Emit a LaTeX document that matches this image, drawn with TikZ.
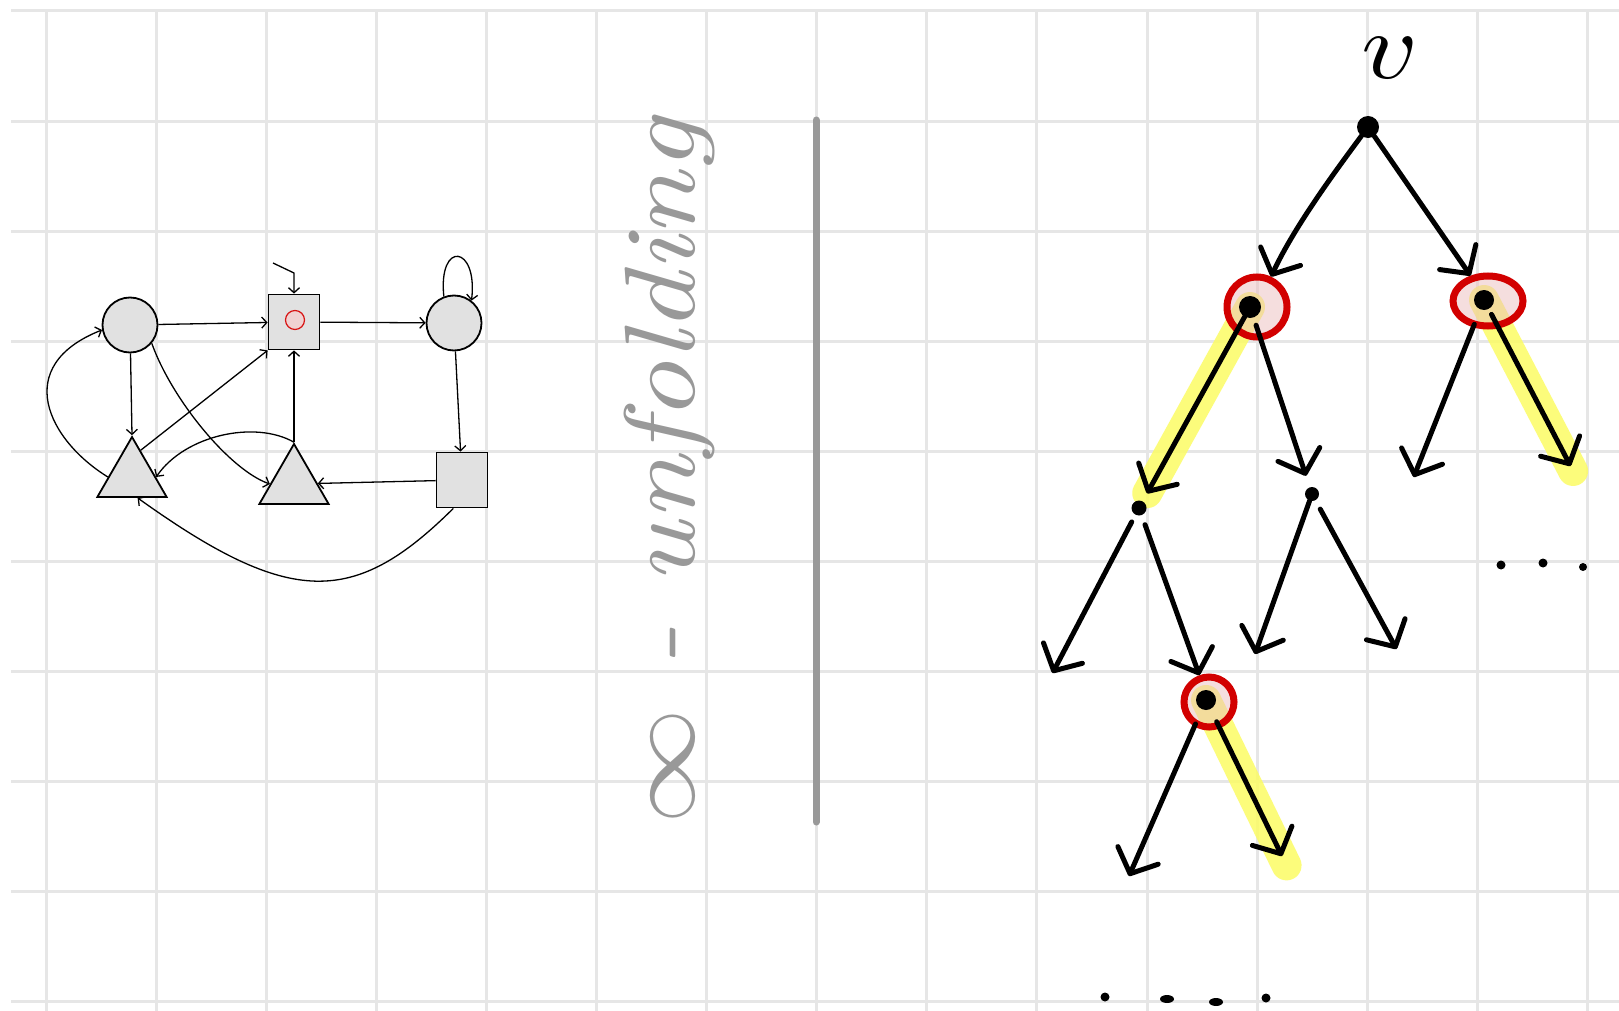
\documentclass[tikz,border=0pt]{standalone}
\usetikzlibrary{arrows.meta,shapes.geometric,calc}
\definecolor{gridc}{RGB}{230,230,230}
\definecolor{nodefill}{RGB}{225,225,225}
\definecolor{inkgray}{RGB}{153,153,153}
\definecolor{ringred}{RGB}{210,0,0}
\definecolor{ringpink}{RGB}{236,190,190}
\definecolor{hly}{RGB}{252,252,100}
\definecolor{markred}{RGB}{215,20,20}
\definecolor{markpink}{RGB}{240,210,210}
\pgfdeclarelayer{gridlayer}
\pgfdeclarelayer{hilayer}
\pgfsetlayers{gridlayer,hilayer,main}
\begin{document}
\begin{tikzpicture}[x=1pt,y=-1pt,
  gridline/.style={draw=gridc, line width=3pt},
  gnode/.style={draw=black, fill=nodefill, line width=1.8pt, inner sep=0pt},
  gcirc/.style={gnode, circle, minimum size=55pt},
  gsq/.style={gnode, rectangle, minimum width=51pt, minimum height=55pt},
  gtri/.style={gnode, regular polygon, regular polygon sides=3, minimum size=80pt},
  garr/.style={line width=1.3pt, -{Straight Barb[length=5pt,width=11pt]}},
  tdot/.style={circle, fill=black, inner sep=0pt, minimum size=#1},
  edot/.style={ellipse, fill=black, inner sep=0pt, minimum width=#1, minimum height=8pt},
  ring/.style={circle, draw=ringred, fill=ringpink, fill opacity=0.5, line width=7pt, minimum size=#1, inner sep=0pt},
  tarr/.style={line width=5pt, line cap=round, -{Straight Barb[length=20pt,width=44pt,round]}},
  hl/.style={draw=hly, line width=30pt, line cap=round, opacity=0.85},
  sepline/.style={draw=inkgray, line width=7pt, line cap=round}]
\useasboundingbox (0,0) rectangle (1619,1011);
\begin{pgfonlayer}{gridlayer}
  \fill[white] (0,0) rectangle (1619,1011);
  \foreach \i in {0,...,14} \draw[gridline] ({46+110.1*\i},11) -- ({46+110.1*\i},1011);
  \foreach \j in {0,...,9} \draw[gridline] (11,{11+110.1*\j}) -- (1619,{11+110.1*\j});
\end{pgfonlayer}

% ---------------- left graph ----------------
\node[gcirc] (A) at (130,325) {};
\node[gsq] (B) at (294,322) {};
\node[circle, draw=markred, fill=markpink, line width=1.2pt, minimum size=19pt, inner sep=0pt] (Bmark) at (295,320) {};
\node[gcirc] (C) at (454,323) {};
\node[gtri] (D) at (132,477) {};
\node[gtri] (E) at (294,484) {};
\node[gsq] (F) at (462,480) {};
\coordinate (init) at (273,263);

\draw[garr] (A) -- (B);
\draw[garr] (B) -- (C);
\draw[garr] (C.111) .. controls (438,240) and (478,245) .. (C.52);
\draw[garr] (init) -- (294,273) -- (B.north);
\draw[garr] (A) -- (D.corner 1);
\draw[garr] (A.-40) .. controls (172,400) and (230,470) .. (E.west);
\draw[garr] (D.72) -- (B.south west);
\draw[garr] (E.corner 1) -- (E.corner 1 |- B.south);
\draw[garr] (D.west) .. controls (48,440) and (11,366) .. (A.190);
\draw[garr] (E.corner 1) .. controls (255,420) and (185,435) .. (D.east);
\draw[garr] (F) -- (E);
\draw[garr] (C) -- (F);
\draw[garr] (F.253) .. controls (354,607) and (290,607) .. (D.285);

% ---------------- title and separator ----------------
\node[text=inkgray, rotate=90, xscale=11.6, yscale=10, anchor=base west, inner sep=0pt, font=\itshape] (title) at (694,827) {$\infty$ - unfolding};
\draw[sepline] (816,120) -- (816,822);

% ---------------- tree ----------------
\node[inner sep=0pt, xscale=11, yscale=9.5] (vlabel) at (1390,58) {$v$};
\node[tdot=22pt] (r) at (1368,127) {};
\node[ring=60pt] (L1ring) at (1257,307) {};
\node[tdot=22pt] (L1) at (1250,307) {};
\node[ellipse, draw=ringred, fill=ringpink, fill opacity=0.5, line width=7pt, minimum width=70pt, minimum height=50pt, inner sep=0pt] (R1ring) at (1488,301) {};
\node[tdot=20pt] (R1) at (1484,300) {};
\node[tdot=15pt] (LL) at (1139,508) {};
\node[tdot=14pt] (LR) at (1312,494) {};
\node[ring=50pt] (LLRring) at (1209,702) {};
\node[tdot=20pt] (LLR) at (1206,700) {};

\coordinate (RLend) at (1413.7,477);
\coordinate (RRend) at (1570.5,466);
\coordinate (LLLend) at (1052.5,673);
\coordinate (LRLend) at (1255,654);
\coordinate (LRRend) at (1396.5,649);
\coordinate (LLRLend) at (1129,876);
\coordinate (LLRRend) at (1282,856);

\begin{pgfonlayer}{hilayer}
  \draw[hl] (L1.center) -- ($(LL)!17pt!(L1)$);
  \draw[hl] (R1.center) -- ($(R1)!1.03!(RRend)$);
  \draw[hl] (LLR.center) -- ($(LLR)!1.06!(LLRRend)$);
\end{pgfonlayer}

\draw[tarr] (r) .. controls (1340,165) and (1295,225) .. (L1ring);
\draw[tarr] (r) -- (R1ring);
\draw[tarr, shorten >=9pt] (L1) -- (LL);
\draw[tarr, shorten <=8pt, shorten >=12pt] (L1) -- (LR);
\draw[tarr, shorten <=16pt] (R1) -- (RLend);
\draw[tarr, shorten <=6pt] (R1) -- (RRend);
\draw[tarr, shorten <=8pt] (LL) -- (LLLend);
\draw[tarr, shorten <=10pt] (LL) -- (LLRring);
\draw[tarr] (LR) -- (LRLend);
\draw[tarr, shorten <=10pt] (LR) -- (LRRend);
\draw[tarr, shorten <=16pt] (LLR) -- (LLRLend);
\draw[tarr, shorten <=14pt] (LLR) -- (LLRRend);

% ellipsis dots
\node[tdot=9pt] (d1) at (1501,565) {};
\node[tdot=9pt] (d2) at (1543,563) {};
\node[tdot=8pt] (d3) at (1583,567) {};
\node[tdot=9pt] (b1) at (1105,997) {};
\node[edot=14pt] (b2) at (1167,999) {};
\node[edot=14pt] (b3) at (1216,1002) {};
\node[tdot=9pt] (b4) at (1266,998) {};
\end{tikzpicture}
\end{document}
